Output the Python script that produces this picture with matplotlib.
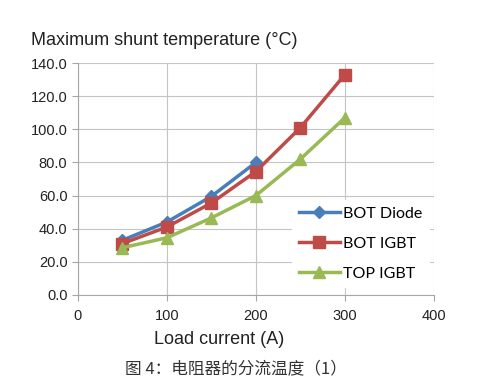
import matplotlib.pyplot as plt

# Data
load_current = [50, 100, 150, 200, 250, 300]
bot_diode_x = [50, 100, 150, 200]
bot_diode = [33.0, 44.0, 59.5, 80.0]
bot_igbt = [31.0, 41.0, 55.5, 74.5, 101.0, 133.0]
top_igbt = [28.5, 34.5, 46.5, 60.0, 82.0, 107.0]

x_ticks = [0, 100, 200, 300, 400]
y_ticks = [0, 20, 40, 60, 80, 100, 120, 140]

plt.rcParams['font.family'] = ['Liberation Sans', 'Noto Sans CJK SC']

fig = plt.figure(figsize=(4.93, 3.87), dpi=100)
ax = fig.add_axes([0.158, 0.238, 0.722, 0.599])

ax.plot(bot_diode_x, bot_diode, color='#4a7ebb', lw=2.5, marker='D', ms=6.5, label='BOT Diode')
ax.plot(load_current, bot_igbt, color='#be4b48', lw=2.5, marker='s', ms=8.5, label='BOT IGBT')
ax.plot(load_current, top_igbt, color='#98b954', lw=2.5, marker='^', ms=8.5, label='TOP IGBT')

ax.set_xlim(0, 400)
ax.set_ylim(0, 140)
ax.set_xticks(x_ticks)
ax.set_yticks(y_ticks)
ax.set_yticklabels([f"{v:.1f}" for v in y_ticks])
ax.grid(True, color='#c4c4c4', lw=0.8)
ax.set_axisbelow(True)
for s in ['top', 'right']:
    ax.spines[s].set_visible(False)
for s in ['left', 'bottom']:
    ax.spines[s].set_color('#a6a6a6')
ax.tick_params(colors='#a6a6a6', labelcolor='#222222', labelsize=10.5, length=4)
ax.tick_params(axis='x', pad=6)

ax.set_xlabel('Load current (A)', fontsize=13, color='#222222')
ax.xaxis.set_label_coords(0.397, -0.155)

leg = ax.legend(loc='lower right', bbox_to_anchor=(1.0, 0.012), frameon=True,
                handlelength=2.6, labelspacing=1.0, borderaxespad=0.3, handletextpad=0.2,
                prop={'family': ['Lato', 'DejaVu Sans'], 'size': 11.5})
leg.get_frame().set_facecolor('white')
leg.get_frame().set_edgecolor('white')
leg.get_frame().set_alpha(1)

fig.text(0.062, 0.885, 'Maximum shunt temperature (°C)', fontsize=13, color='#222222')
fig.text(0.478, 0.035, '图 4：电阻器的分流温度（1）', fontsize=12, color='#333333', ha='center',
         family=['Noto Sans CJK SC', 'DejaVu Sans'])

fig.savefig('out.png', dpi=100)
